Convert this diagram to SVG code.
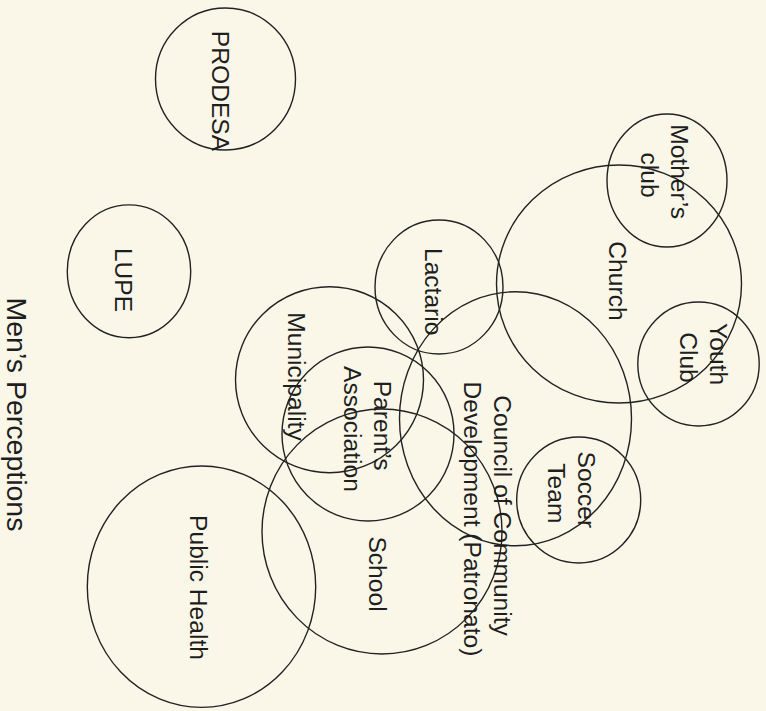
<svg xmlns="http://www.w3.org/2000/svg" width="766" height="711" viewBox="0 0 766 711">
  <style>
    .ring { fill: none; stroke: #222; stroke-width: 1.4; }
    .lbl { font-family: "Liberation Sans", Arial, sans-serif; font-size: 24.6px; fill: #1e1e1e; text-anchor: middle; }
    .title { font-family: "Liberation Sans", Arial, sans-serif; font-size: 28.5px; fill: #1e1e1e; text-anchor: middle; }
  </style>
  <rect width="766" height="711" fill="#faf7e8"/>

  <!-- diagram title, reads top to bottom -->
  <text class="title" transform="translate(7,414.5) rotate(90)">Men’s Perceptions</text>

  <g id="prodesa">
    <ellipse class="ring" cx="225.5" cy="79" rx="70" ry="71"/>
    <text class="lbl" transform="translate(212,91) rotate(90)">PRODESA</text>
  </g>

  <g id="lupe">
    <ellipse class="ring" cx="129" cy="271.3" rx="61.7" ry="66.4"/>
    <text class="lbl" transform="translate(115,280) rotate(90)">LUPE</text>
  </g>

  <g id="public-health">
    <ellipse class="ring" cx="201.5" cy="586.7" rx="114.2" ry="120.7"/>
    <text class="lbl" transform="translate(190,587.5) rotate(90)">Public Health</text>
  </g>

  <g id="municipality">
    <ellipse class="ring" cx="329.5" cy="379.7" rx="94" ry="93"/>
    <text class="lbl" transform="translate(288,376.5) rotate(90)">Municipality</text>
  </g>

  <g id="parents-association">
    <ellipse class="ring" cx="368" cy="434" rx="86" ry="87"/>
    <text class="lbl" transform="translate(374,429) rotate(90)">
      <tspan x="0" y="0">Parent’s</tspan>
      <tspan x="0" y="30">Association</tspan>
    </text>
  </g>

  <g id="school">
    <ellipse class="ring" cx="382" cy="531.5" rx="120" ry="122.5"/>
    <text class="lbl" transform="translate(368.5,574) rotate(90)">School</text>
  </g>

  <g id="lactario">
    <ellipse class="ring" cx="439" cy="287" rx="64" ry="67"/>
    <text class="lbl" transform="translate(424.5,291.7) rotate(90)">Lactario</text>
  </g>

  <g id="council">
    <ellipse class="ring" cx="515.5" cy="418.7" rx="116" ry="127"/>
    <text class="lbl" transform="translate(494,519) rotate(90)">
      <tspan x="0" y="0">Council of Community</tspan>
      <tspan x="0" y="30">Development (Patronato)</tspan>
    </text>
  </g>

  <g id="soccer-team">
    <ellipse class="ring" cx="578.7" cy="500" rx="62" ry="63"/>
    <text class="lbl" transform="translate(578,493.3) rotate(90)">
      <tspan x="0" y="0">Soccer</tspan>
      <tspan x="0" y="30">Team</tspan>
    </text>
  </g>

  <g id="church">
    <ellipse class="ring" cx="619" cy="284" rx="122.5" ry="119"/>
    <text class="lbl" transform="translate(608.5,281) rotate(90)">Church</text>
  </g>

  <g id="mothers-club">
    <ellipse class="ring" cx="667" cy="180.5" rx="60" ry="66.5"/>
    <text class="lbl" transform="translate(671,175) rotate(90)">
      <tspan x="0" y="0">Mother’s</tspan>
      <tspan x="0" y="30">club</tspan>
    </text>
  </g>

  <g id="youth-club">
    <ellipse class="ring" cx="698.5" cy="364" rx="60.7" ry="62"/>
    <text class="lbl" transform="translate(710,357.5) rotate(90)">
      <tspan x="0" y="0">Youth</tspan>
      <tspan x="0" y="30">Club</tspan>
    </text>
  </g>

  <!-- no connectors: overlap of the rings carries the relations -->
  <g id="connectors"/>
</svg>
